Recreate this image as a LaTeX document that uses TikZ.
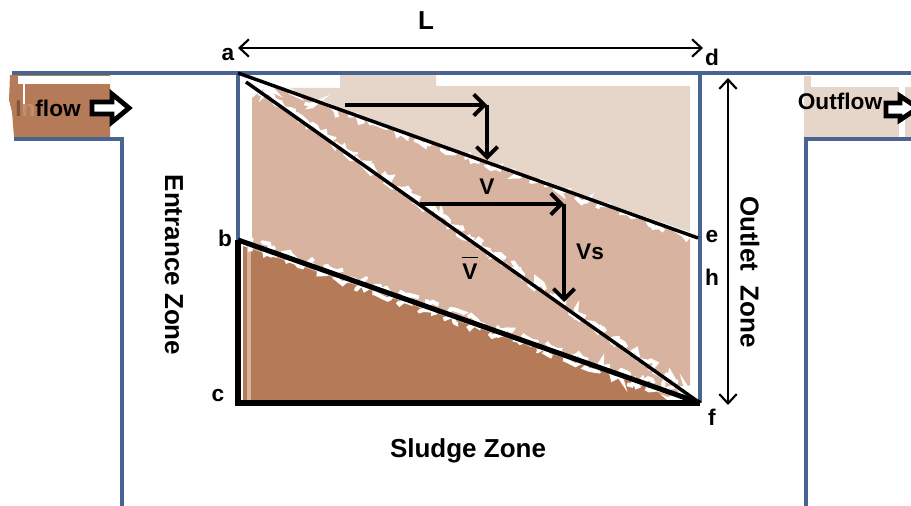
\documentclass[tikz,border=0pt]{standalone}
\usepackage{fontspec}
\setmainfont{Liberation Sans}
\usetikzlibrary{arrows.meta,decorations.pathmorphing}
\definecolor{wallblue}{HTML}{4A6491}
\definecolor{zonelight}{HTML}{E6D5C9}
\definecolor{zonemid}{HTML}{D8B3A0}
\definecolor{zonedark}{HTML}{B57A57}
\tikzset{
    lbl/.style={font=\fontsize{17}{19}\selectfont\bfseries,inner sep=0pt},
    biglbl/.style={font=\fontsize{19.5}{21}\selectfont\bfseries,inner sep=0pt},
    wall/.style={draw=wallblue,line width=2.4pt},
    rough/.style={draw=white,line width=3pt,dash pattern=on 16pt off 9pt,decorate,decoration={random steps,segment length=3pt,amplitude=3pt}},
    flowarrow/.style={draw=black,fill=white,line width=3.6pt,line join=miter},
    barb/.style={-{Straight Barb[length=8pt,width=16pt,line width=2.8pt]},line width=2.8pt},
    dimline/.style={{Straight Barb[length=7pt,width=13pt]}-{Straight Barb[length=7pt,width=13pt]},line width=1.6pt},
}
\begin{document}
\begin{tikzpicture}[x=0.75pt,y=-0.75pt,>=stealth]
\useasboundingbox (0,0) rectangle (911,506);

% points of the tank
\coordinate (a) at (238,73);
\coordinate (a2) at (246,82);
\coordinate (b) at (238,240);
\coordinate (c) at (238,403);
\coordinate (d) at (700,73);
\coordinate (e) at (698,238);
\coordinate (f) at (700,403);

% zones
\fill[zonelight] (283,88)--(340,88)--(340,75)--(436,75)--(436,86)--(690,86)--(690,232)--(270,88)--cycle;
\fill[zonemid] (252,98)--(265,88)--(278,88)--(690,234)--(690,385)--(668,397)--(252,250)--cycle;
\fill[zonedark] (243,246)--(655,390)--(668,401)--(243,401)--cycle;
\fill[zonemid] (247,246) rectangle (251,401);
\fill[zonedark] (10,75)--(110,75)--(110,137)--(14,137)--(12,112)--(9,100)--cycle;
\fill[white] (18,76)--(110,76)--(110,84)--(18,84)--cycle;
\fill[white] (23,84) rectangle (25,112);
\fill[zonelight] (804,87)--(899,87)--(899,137)--(804,137)--cycle;
\fill[zonelight] (905,87)--(911,87)--(911,137)--(905,137)--cycle;
\fill[zonelight] (804,76)--(811,76)--(811,87)--(804,87)--cycle;

% rough edges along the settling lines
\path[rough] ([yshift=-2pt]a)--([yshift=-2pt]e);
\path[rough] ([yshift=3pt]a2)--([yshift=3pt]f);
\path[rough] ([xshift=3pt,yshift=-1pt]a2)--([xshift=3pt,yshift=-1pt]f);
\path[rough] ([yshift=-2.5pt]b)--([yshift=-2.5pt]f);
\path[rough] ([yshift=3pt]b)--([yshift=3pt]f);

% walls
\draw[wall] (12,73)--(911,73);
\draw[wall] (14,139)--(122,139)--(122,506);
\draw[wall] (911,139)--(806,139)--(806,506);
\draw[wall] (a)--(b);
\draw[wall] (d)--(f);

% settling lines
\draw[line width=2.6pt] (a)--(e);
\draw[line width=2.6pt] (a2)--(f);
\draw[line width=3.8pt] (b)--(f);
\draw[line width=3.8pt,line join=miter] (b)--(c)--(f);

% velocity arrows
\foreach \xa/\xb/\ya/\yb in {345/487/105/160,420/564/204/302}{
    \coordinate (p) at (\xa,\ya);
    \coordinate (q) at (\xb,\ya);
    \coordinate (r) at (\xb,\yb);
    \draw[barb] (p)--(q);
    \draw[barb] (q)--(r);
}

% dimensions
\coordinate (la) at (238,48);
\coordinate (lb) at (703,48);
\coordinate (ha) at (728,78);
\coordinate (hb) at (728,405);
\draw[dimline] (la)--(lb);
\draw[dimline] (ha)--(hb);

% flow arrows
\draw[flowarrow] (92,102)--(112,102)--(112,94)--(129,108)--(112,122)--(112,114)--(92,114)--cycle;
\draw[flowarrow] (886,103)--(900,103)--(900,96)--(918,108)--(900,120)--(900,116)--(886,116)--cycle;

% labels
\node[biglbl] (nL) at (426,21) {L};
\node[lbl] (na) at (228,55) {a};
\node[lbl] (nd) at (712,57) {d};
\node[lbl] (nb) at (225,238) {b};
\node[lbl] (nc) at (218,396) {c};
\node[lbl] (ne) at (712,237) {e};
\node[lbl] (nh) at (712,277) {h};
\node[lbl] (nf) at (712,417) {f};
\node[lbl] (nV) at (487,187) {V};
\node[lbl] (nVs) at (590,252) {Vs};
\node[lbl] (nVbar) at (470,268) {$\overline{\mbox{\rule{0pt}{15pt}V}}$};
\node[lbl] (nin) at (48,108) {\textcolor{zonedark!70!black}{I}\textcolor{zonedark!85!white}{n}flow};
\node[lbl] (nout) at (840,101) {Outflow};
\node[biglbl,rotate=-90] (nent) at (174,265) {Entrance Zone};
\node[biglbl,rotate=-90] (nolt) at (750,272) {Outlet\ \ Zone};
\node[biglbl] (nsl) at (468,451) {Sludge Zone};
\end{tikzpicture}
\end{document}
